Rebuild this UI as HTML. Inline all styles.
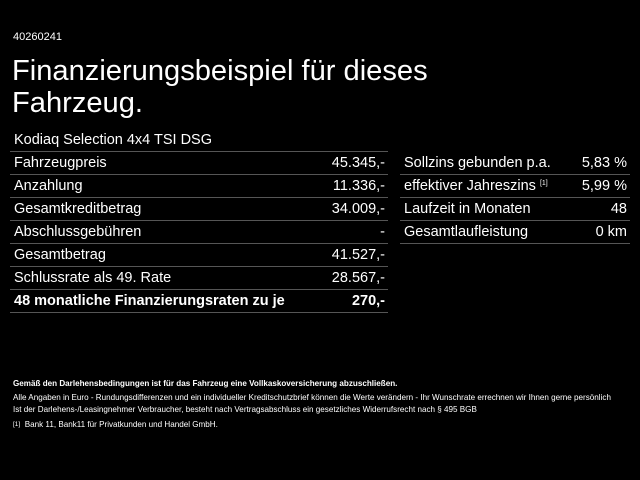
<!DOCTYPE html>
<html><head><meta charset="utf-8"><style>
body{margin:0;width:640px;height:480px;background:#000;color:#fff;font-family:"Liberation Sans",sans-serif;position:relative;overflow:hidden}
.a{position:absolute;white-space:nowrap}
.row{position:absolute;height:22px;border-bottom:1px solid #555;font-size:14.5px;line-height:22px}
.row span.r{position:absolute;right:3px;top:0}
.row span.l{position:absolute;left:4px;top:0}
.L{left:10px;width:378px}
.R{left:400px;width:230px}
.s{font-size:7px;vertical-align:top;position:relative;top:-2px}
.f{position:absolute;left:13px;font-size:8.1px;white-space:nowrap}
</style></head><body>
<div class="a" style="left:13px;top:31px;font-size:11px">40260241</div>
<div class="a" style="left:12px;top:55px;font-size:29.1px;line-height:32px">Finanzierungsbeispiel für dieses<br>Fahrzeug.</div>
<div class="row L" style="top:129px"><span class="l">Kodiaq Selection 4x4 TSI DSG</span></div>
<div class="row L" style="top:152px"><span class="l">Fahrzeugpreis</span><span class="r">45.345,-</span></div>
<div class="row L" style="top:175px"><span class="l">Anzahlung</span><span class="r">11.336,-</span></div>
<div class="row L" style="top:198px"><span class="l">Gesamtkreditbetrag</span><span class="r">34.009,-</span></div>
<div class="row L" style="top:221px"><span class="l">Abschlussgebühren</span><span class="r">-</span></div>
<div class="row L" style="top:244px"><span class="l">Gesamtbetrag</span><span class="r">41.527,-</span></div>
<div class="row L" style="top:267px"><span class="l">Schlussrate als 49. Rate</span><span class="r">28.567,-</span></div>
<div class="row L" style="top:290px;font-weight:bold"><span class="l">48 monatliche Finanzierungsraten zu je</span><span class="r">270,-</span></div>
<div class="row R" style="top:152px"><span class="l">Sollzins gebunden p.a.</span><span class="r">5,83 %</span></div>
<div class="row R" style="top:175px"><span class="l">effektiver Jahreszins <span class="s">[1]</span></span><span class="r">5,99 %</span></div>
<div class="row R" style="top:198px"><span class="l">Laufzeit in Monaten</span><span class="r">48</span></div>
<div class="row R" style="top:221px"><span class="l">Gesamtlaufleistung</span><span class="r">0 km</span></div>
<div class="f" style="top:379px;font-weight:bold">Gemäß den Darlehensbedingungen ist für das Fahrzeug eine Vollkaskoversicherung abzuschließen.</div>
<div class="f" style="top:393px">Alle Angaben in Euro - Rundungsdifferenzen und ein individueller Kreditschutzbrief können die Werte verändern - Ihr Wunschrate errechnen wir Ihnen gerne persönlich</div>
<div class="f" style="top:405px">Ist der Darlehens-/Leasingnehmer Verbraucher, besteht nach Vertragsabschluss ein gesetzliches Widerrufsrecht nach § 495 BGB</div>
<div class="f" style="top:420px"><span style="font-size:6.5px;position:relative;top:-1px">[1]</span>&nbsp; Bank 11, Bank11 für Privatkunden und Handel GmbH.</div>
</body></html>
